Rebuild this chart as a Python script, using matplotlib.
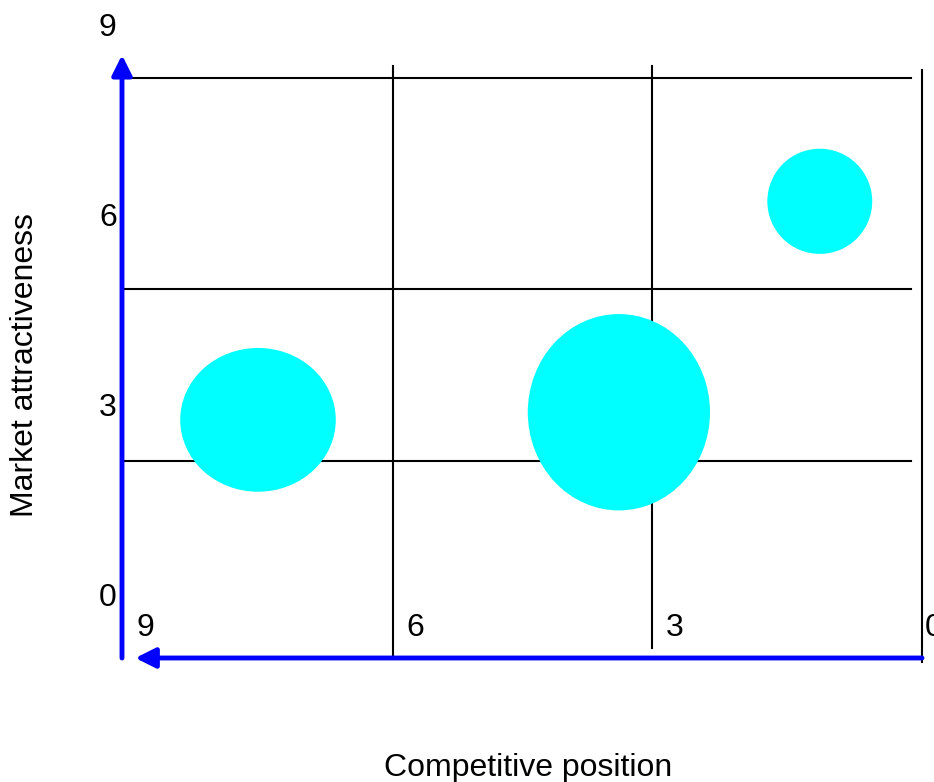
import matplotlib.pyplot as plt
from matplotlib.patches import Ellipse

plt.rcParams['font.family'] = ['Liberation Sans', 'DejaVu Sans']

# バブルのデータ（競争力, 市場魅力度, 幅, 高さ）
bubble_x = [7.47, 3.41, 1.15]
bubble_y = [2.72, 2.84, 6.17]
bubble_w = [1.75, 2.05, 1.18]
bubble_h = [2.27, 3.10, 1.66]

# 目盛りラベル
x_ticks = [9, 6, 3, 0]
y_ticks = [0, 3, 6, 9]

# マトリクスの線
h_lines = [8.12, 4.79, 2.07]
v_lines = [5.95, 3.04, 0.0]
v_line_bottom = [-1.04, -0.88, -1.11]
v_line_top = [8.31, 8.31, 8.25]

fig = plt.figure(figsize=(9.34, 7.82), dpi=100)
ax = fig.add_axes([122 / 934, 124 / 782, 800 / 934, 603 / 782])
ax.set_xlim(9, 0)
ax.set_ylim(-1.04, 8.48)
ax.axis('off')

# 格子線
for y in h_lines:
    ax.plot([9, 0.125], [y, y], color='black', lw=1.5, zorder=1, clip_on=False)
for x, y0, y1 in zip(v_lines, v_line_bottom, v_line_top):
    ax.plot([x, x], [y0, y1], color='black', lw=1.5, zorder=1, clip_on=False)

# バブル
for x, y, w, h in zip(bubble_x, bubble_y, bubble_w, bubble_h):
    ax.add_patch(Ellipse((x, y), w, h, facecolor='cyan', edgecolor='none', zorder=2))

# 青い矢印の軸
ax.annotate('', xy=(9, 8.48), xytext=(9, -1.04),
            arrowprops=dict(arrowstyle='-|>', color='blue', lw=3.5,
                            mutation_scale=30, shrinkA=0, shrinkB=0),
            annotation_clip=False, zorder=3)
ax.annotate('', xy=(8.85, -1.04), xytext=(0, -1.04),
            arrowprops=dict(arrowstyle='-|>', color='blue', lw=3.5,
                            mutation_scale=30, shrinkA=0, shrinkB=0),
            annotation_clip=False, zorder=3)

# 目盛りラベル
x_shift = [0.16, 0.2, 0.12, 0.03]
for v, s in zip(x_ticks, x_shift):
    ax.text(v - s, -0.57, str(v), ha='left', va='center', fontsize=23, clip_on=False)
for v in y_ticks:
    ax.text(9.06, v - 0.1, str(v), ha='right', va='center', fontsize=23, clip_on=False)

# 軸タイトル
fig.text(528 / 934, 1 - 768 / 782, 'Competitive position', ha='center', va='center', fontsize=23)
fig.text(25 / 934, 1 - 365 / 782, 'Market attractiveness', ha='center', va='center',
         rotation=90, fontsize=23)

plt.savefig('out.png', dpi=100)
